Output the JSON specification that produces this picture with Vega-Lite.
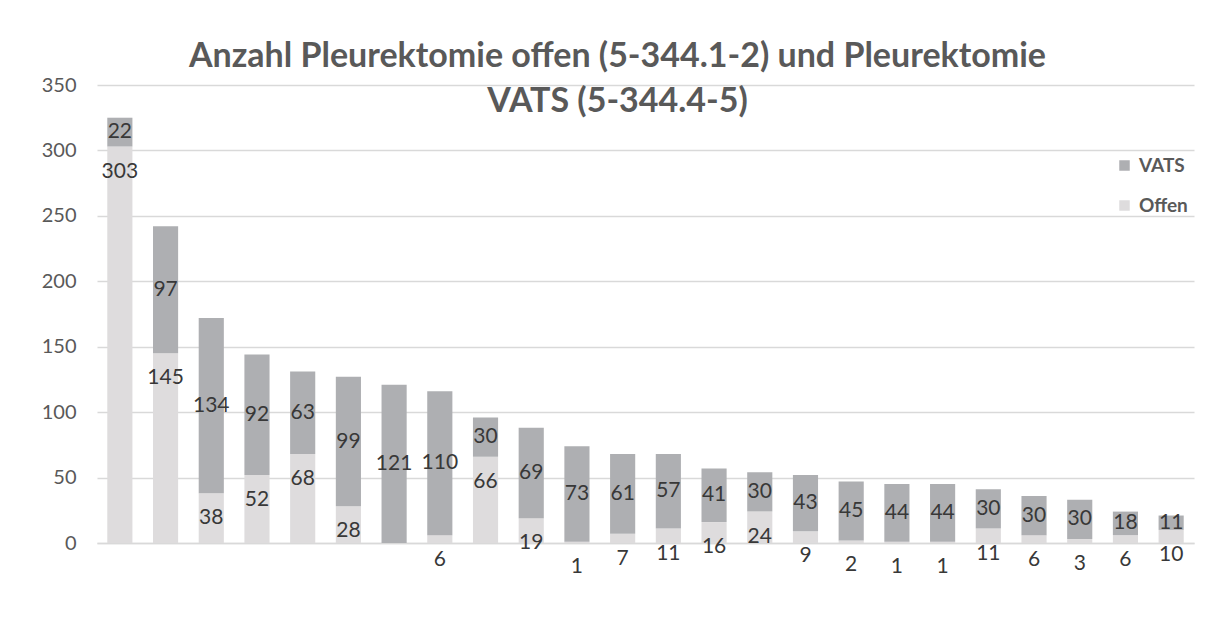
{
  "$schema": "https://vega.github.io/schema/vega-lite/v6.json",
  "autosize": {"type": "none"},
  "padding": {"left": 97, "top": 85, "right": 13, "bottom": 92},
  "width": 1097,
  "height": 458,
  "background": "white",
  "title": {
    "text": ["Anzahl Pleurektomie offen (5-344.1-2) und Pleurektomie", "VATS (5-344.4-5)"],
    "font": "Lato",
    "fontSize": 34,
    "fontWeight": "bold",
    "color": "#595959",
    "lineHeight": 45,
    "anchor": "middle",
    "baseline": "alphabetic",
    "offset": -71,
    "dx": -28
  },
  "data": {"values": [
    {"k": 1, "typ": "Offen", "n": 303}, {"k": 1, "typ": "VATS", "n": 22},
    {"k": 2, "typ": "Offen", "n": 145}, {"k": 2, "typ": "VATS", "n": 97},
    {"k": 3, "typ": "Offen", "n": 38}, {"k": 3, "typ": "VATS", "n": 134},
    {"k": 4, "typ": "Offen", "n": 52}, {"k": 4, "typ": "VATS", "n": 92},
    {"k": 5, "typ": "Offen", "n": 68}, {"k": 5, "typ": "VATS", "n": 63},
    {"k": 6, "typ": "Offen", "n": 28}, {"k": 6, "typ": "VATS", "n": 99},
    {"k": 7, "typ": "Offen", "n": 0}, {"k": 7, "typ": "VATS", "n": 121},
    {"k": 8, "typ": "Offen", "n": 6}, {"k": 8, "typ": "VATS", "n": 110},
    {"k": 9, "typ": "Offen", "n": 66}, {"k": 9, "typ": "VATS", "n": 30},
    {"k": 10, "typ": "Offen", "n": 19}, {"k": 10, "typ": "VATS", "n": 69},
    {"k": 11, "typ": "Offen", "n": 1}, {"k": 11, "typ": "VATS", "n": 73},
    {"k": 12, "typ": "Offen", "n": 7}, {"k": 12, "typ": "VATS", "n": 61},
    {"k": 13, "typ": "Offen", "n": 11}, {"k": 13, "typ": "VATS", "n": 57},
    {"k": 14, "typ": "Offen", "n": 16}, {"k": 14, "typ": "VATS", "n": 41},
    {"k": 15, "typ": "Offen", "n": 24}, {"k": 15, "typ": "VATS", "n": 30},
    {"k": 16, "typ": "Offen", "n": 9}, {"k": 16, "typ": "VATS", "n": 43},
    {"k": 17, "typ": "Offen", "n": 2}, {"k": 17, "typ": "VATS", "n": 45},
    {"k": 18, "typ": "Offen", "n": 1}, {"k": 18, "typ": "VATS", "n": 44},
    {"k": 19, "typ": "Offen", "n": 1}, {"k": 19, "typ": "VATS", "n": 44},
    {"k": 20, "typ": "Offen", "n": 11}, {"k": 20, "typ": "VATS", "n": 30},
    {"k": 21, "typ": "Offen", "n": 6}, {"k": 21, "typ": "VATS", "n": 30},
    {"k": 22, "typ": "Offen", "n": 3}, {"k": 22, "typ": "VATS", "n": 30},
    {"k": 23, "typ": "Offen", "n": 6}, {"k": 23, "typ": "VATS", "n": 18},
    {"k": 24, "typ": "Offen", "n": 10}, {"k": 24, "typ": "VATS", "n": 11}
  ]},
  "encoding": {
    "x": {
      "field": "k", "type": "ordinal",
      "scale": {"paddingInner": 0.45, "paddingOuter": 0.225},
      "axis": {"labels": false, "ticks": false, "title": null, "domainColor": "#D9D9D9", "domainWidth": 1.5}
    }
  },
  "layer": [
    {
      "mark": {"type": "bar"},
      "encoding": {
        "y": {
          "field": "n", "type": "quantitative", "stack": "zero",
          "scale": {"domain": [0, 350], "nice": false},
          "axis": {
            "values": [0, 50, 100, 150, 200, 250, 300, 350],
            "title": null, "domain": false, "ticks": false,
            "gridColor": "#D9D9D9", "gridWidth": 1.5,
            "labelFont": "Lato", "labelFontSize": 20, "labelColor": "#595959",
            "labelPadding": 21
          }
        },
        "color": {
          "field": "typ", "type": "nominal",
          "scale": {"domain": ["VATS", "Offen"], "range": ["#AEAFB2", "#DEDCDD"]},
          "legend": {
            "title": null, "orient": "none", "legendX": 1018, "legendY": 71,
            "symbolType": "square", "symbolSize": 110, "symbolStrokeWidth": 0,
            "labelFont": "Lato", "labelFontSize": 19, "labelFontWeight": "bold", "labelColor": "#595959",
            "rowPadding": 20, "labelOffset": 5
          }
        },
        "order": {"field": "typ", "sort": "ascending"}
      }
    },
    {
      "transform": [{"filter": "datum.typ == 'Offen' && datum.n > 0"}],
      "mark": {"type": "text", "font": "Lato", "fontSize": 21, "color": "#383838", "baseline": "middle", "dy": 25},
      "encoding": {
        "y": {"field": "n", "type": "quantitative", "stack": null},
        "text": {"field": "n", "type": "quantitative"}
      }
    },
    {
      "mark": {"type": "text", "font": "Lato", "fontSize": 21, "color": "#383838", "baseline": "middle"},
      "encoding": {
        "y": {"field": "n", "type": "quantitative", "stack": "zero", "bandPosition": 0.5},
        "order": {"field": "typ", "sort": "ascending"},
        "text": {"condition": {"test": "datum.typ == 'VATS'", "field": "n", "type": "quantitative"}, "value": ""}
      }
    }
  ],
  "config": {"view": {"stroke": null}}
}
